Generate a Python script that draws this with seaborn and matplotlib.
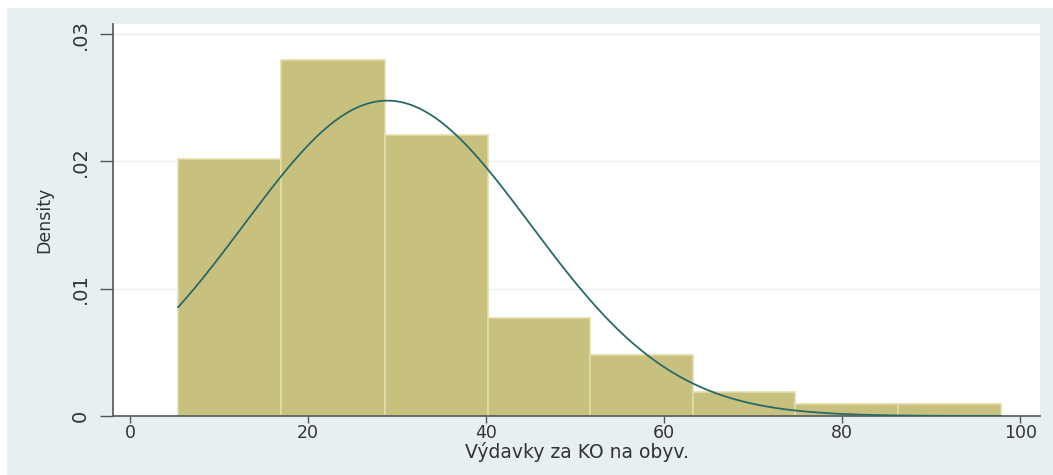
import numpy as np
import matplotlib
matplotlib.use("Agg")
import matplotlib.pyplot as plt
import seaborn as sns

# histogram bins and bar heights (density)
bin_edges = [5.4, 17.0, 28.6, 40.2, 51.7, 63.2, 74.7, 86.3, 97.8]
densities = [0.0202, 0.0280, 0.0221, 0.0077, 0.0048, 0.0019, 0.00095, 0.00095]
# overlaid normal curve parameters
norm_mean = 28.9
norm_sd = 16.1

x_ticks = [0, 20, 40, 60, 80, 100]
y_ticks = [0, 0.01, 0.02, 0.03]
y_tick_labels = ["0", ".01", ".02", ".03"]

sns.set_style("white")
plt.rcParams["font.family"] = ["DejaVu Sans"]

fig = plt.figure(figsize=(10.53, 4.75), dpi=100, facecolor="white")
# Stata-like outer background
fig.patches.append(plt.Rectangle((7 / 1053, 0), 1, 1 - 8 / 475,
                                 transform=fig.transFigure, facecolor="#e8eff1",
                                 edgecolor="none", zorder=-10))
ax = fig.add_axes([113 / 1053, (475 - 416) / 475, (1040 - 113) / 1053, (416 - 24) / 475])
ax.set_facecolor("white")

centers = [(a + b) / 2 for a, b in zip(bin_edges[:-1], bin_edges[1:])]
sns.histplot(x=centers, weights=densities, bins=bin_edges, stat="count",
             color="#c8c07e", edgecolor="#e2dba8", linewidth=1.2, alpha=1, ax=ax, zorder=2)

xs = np.linspace(bin_edges[0], bin_edges[-1], 400)
ys = np.exp(-0.5 * ((xs - norm_mean) / norm_sd) ** 2) / (norm_sd * np.sqrt(2 * np.pi))
sns.lineplot(x=xs, y=ys, color="#2a6a66", linewidth=1.3, ax=ax, zorder=3)

ax.set_xlim(-1.9, 102.2)
ax.set_ylim(0, 0.0308)
ax.set_xticks(x_ticks)
ax.set_xticklabels([str(t) for t in x_ticks], fontsize=12.5, color="#333333")
ax.set_yticks(y_ticks)
ax.set_yticklabels(y_tick_labels, fontsize=14, rotation=90, va="center", color="#333333")
ax.grid(axis="y", color="#eaf1f2", linewidth=1, zorder=0)
ax.set_axisbelow(True)

for side in ["top", "right"]:
    ax.spines[side].set_visible(False)
for side in ["left", "bottom"]:
    ax.spines[side].set_color("#555555")
    ax.spines[side].set_linewidth(1.2)
ax.tick_params(axis="x", direction="out", length=5, width=1, color="#555555", bottom=True, pad=1)
ax.tick_params(axis="y", direction="out", length=9.5, width=1, color="#555555", left=True, pad=7)

ax.set_xlabel("Výdavky za KO na obyv.", fontsize=13.5, color="#333333", labelpad=0)
ax.set_ylabel("Density", fontsize=12.5, color="#333333", labelpad=13)

fig.savefig("out.png", dpi=100, facecolor=fig.get_facecolor())
